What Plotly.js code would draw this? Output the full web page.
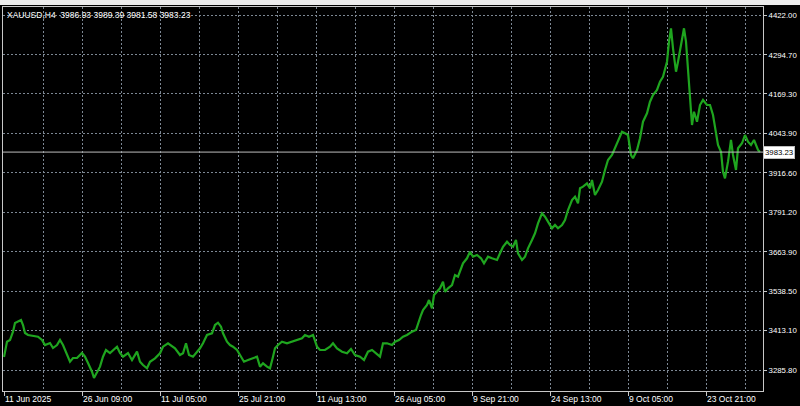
<!DOCTYPE html>
<html>
<head>
<meta charset="utf-8">
<script src="https://cdn.plot.ly/plotly-3.0.1.min.js"></script>
<style>
  html, body { margin: 0; padding: 0; background: #000; }
  #chart { width: 800px; height: 406px; }
</style>
</head>
<body>
<div id="chart"></div>
<script>
// ---- chart data ----
const symbol = 'XAUUSD';
const timeframe = 'H4';
const barOpen = 3986.93;
const barHigh = 3989.39;
const barLow = 3981.58;
const barClose = 3983.23;

// bar number (H4 bars counted from the first visible bar, 11 Jun 2025)
const bars = [
  0,3,6,9,11,14,17,19,21,24,29,34,38,41,46,49,53,56,59,63,66,69,73,78,81,84,88,90,93,96,99,102,106,109,113,116,119,124,128,133,136,139,143,146,151,156,
  159,164,168,171,176,179,182,185,189,193,196,199,203,208,211,214,217,219,223,226,229,233,236,240,244,249,253,256,259,263,266,269,271,274,278,283,288,293,298,301,305,
  309,313,316,321,326,329,333,338,343,347,351,356,360,364,368,372,376,379,383,388,391,395,399,403,408,412,414,417,419,423,425,428,430,433,436,439,441,444,448,451,454,
  459,463,466,469,473,477,480,484,488,493,496,499,503,506,509,512,514,518,521,524,528,531,534,538,541,544,548,551,554,558,561,564,568,571,574,576,579,583,586,588,591,594,598,601,604,608,
  611,614,618,621,624,627,629,633,636,639,643,646,649,653,656,659,663,665,667,669,672,674,677,680,682,684,686,688,690,693,696,699,703,706,709,712,714,717,719,721,724,727,729,732,734,738,741,744,747,750,754,756
];

// close prices
const closes = [
  3327.4,3376.4,3381.8,3408.4,3436.2,3440.4,3445.8,3429.8,3404.2,3397.8,3394.6,3392.4,3381.8,3365.8,3372.2,3356.2,3365.8,3381.8,3365.8,3333.8,3312.3,3324.2,3324.2,3340.2,3328.4,3308.2,3280.3,3260.2,3280.3,3296.4,3328.4,3349.8,3340.2,3349.8,3360.4,3340.2,3328.4,3340.2,3317.8,3344.4,3312.3,3301.8,3291.2,3312.3,3323.2,3339.2,
  3360.4,3371.2,3360.4,3355.2,3333.8,3339.2,3371.2,3333.8,3328.4,3344.4,3355.2,3371.2,3397.8,3403.2,3429.8,3437.2,3424.4,3403.2,3376.4,3365.8,3360.4,3349.8,3333.8,3312.3,3317.8,3323.2,3328.4,3296.4,3307.2,3296.4,3291.2,3328.4,3355.2,3365.8,3376.4,3371.2,3376.4,3381.8,3387.2,3397.8,3392.4,
  3397.8,3360.4,3349.8,3349.8,3360.4,3371.2,3355.2,3344.4,3339.2,3353.0,3333.8,3328.4,3317.8,3344.4,3349.8,3339.2,3328.4,3371.2,3371.2,3365.8,3376.4,3381.8,3392.4,3397.8,3408.4,3413.8,3435.3,3461.8,3477.8,3493.8,3509.8,3483.3,3525.8,3536.4,3547.3,3568.4,3536.4,3547.3,3557.8,3589.8,3584.4,
  3627.3,3643.3,3664.4,3648.4,3653.9,3643.3,3627.3,3648.4,3643.3,3637.9,3659.3,3680.4,3696.4,3685.9,3680.4,3701.9,3659.3,3637.9,3648.4,3675.3,3701.9,3723.3,3755.3,3787.3,3776.4,3760.4,3739.3,3749.9,3739.3,3749.9,3765.9,3797.9,3829.9,3840.5,3819.3,3867.3,3872.5,3883.3,3867.3,3893.9,3845.9,3861.9,3888.5,3925.9,3957.9,3973.9,
  3995.4,4016.5,4048.5,4043.4,4037.9,3973.9,3963.4,3989.9,4027.4,4080.5,4107.4,4144.5,4166.0,4182.0,4208.5,4224.5,4272.5,4336.5,4379.4,4315.4,4240.5,4272.5,4326.0,4379.4,4336.5,4240.5,4144.5,4069.9,4112.5,4080.5,4133.9,4149.9,4133.9,4133.9,4101.9,4048.5,4005.9,3984.5,3920.5,3899.3,3952.5,4021.9,3973.9,3925.9,3995.4,4011.4,4037.9,4016.5,4005.9,4021.9,3989.9,3983.23
];

// axis ticks
const xTickBars = [0, 78, 156, 234, 312, 390, 468, 546, 624, 702];
const xTickLabels = ['11 Jun 2025', '26 Jun 09:00', '11 Jul 05:00', '25 Jul 21:00', '11 Aug 13:00',
                     '26 Aug 05:00', '9 Sep 21:00', '24 Sep 13:00', '9 Oct 05:00', '23 Oct 21:00'];
const yTickVals = [3285.80, 3413.10, 3538.50, 3663.90, 3791.20, 3916.60, 4043.90, 4169.30, 4294.70, 4422.00];

// ---- drawing ----
const FONT = "'Liberation Sans', Arial, sans-serif";
const gridColor = '#7d8894';
const frameColor = '#c8c8c8';
const fmt = v => v.toFixed(2);

const trace = {
  type: 'scatter',
  mode: 'lines',
  x: bars,
  y: closes,
  line: { color: '#1fa51f', width: 2.2 },
  hoverinfo: 'skip'
};

const layout = {
  width: 800,
  height: 406,
  paper_bgcolor: '#000000',
  plot_bgcolor: '#000000',
  margin: { l: 3, r: 37, t: 7, b: 15, pad: 0 },
  showlegend: false,
  title: {
    text: `${symbol},${timeframe}  ${fmt(barOpen)} ${fmt(barHigh)} ${fmt(barLow)} ${fmt(barClose)}`,
    x: 7 / 800, xanchor: 'left',
    y: 1 - 15 / 406, yanchor: 'middle',
    font: { family: FONT, size: 8.5, color: '#ffffff' }
  },
  xaxis: {
    range: [-1, 759],
    tickmode: 'array',
    tickvals: xTickBars,
    ticktext: xTickLabels,
    ticks: 'outside', ticklen: 4, tickwidth: 1, tickcolor: frameColor,
    ticklabelposition: 'outside right',
    tickfont: { family: FONT, size: 8.5, color: '#ffffff' },
    showgrid: true, gridcolor: gridColor, gridwidth: 1, griddash: '2px,2px',
    minor: { tickmode: 'linear', tick0: 0, dtick: 39, showgrid: true,
             gridcolor: gridColor, gridwidth: 1, griddash: '2px,2px', ticks: '' },
    showline: true, linecolor: frameColor, linewidth: 1, mirror: true,
    zeroline: false, fixedrange: true
  },
  yaxis: {
    side: 'right',
    range: [3218.6, 4447.6],
    tickmode: 'array',
    tickvals: yTickVals,
    ticktext: yTickVals.map(fmt),
    ticks: 'outside', ticklen: 3, tickwidth: 1, tickcolor: frameColor,
    tickfont: { family: FONT, size: 7.8, color: '#ffffff' },
    showgrid: true, gridcolor: gridColor, gridwidth: 1, griddash: '2px,2px',
    showline: true, linecolor: frameColor, linewidth: 1, mirror: true,
    zeroline: false, fixedrange: true
  },
  shapes: [
    // light window edge above the chart
    { type: 'rect', xref: 'paper', yref: 'paper', x0: -3 / 760, x1: 1 + 37 / 760,
      y0: 1 + 2 / 384, y1: 1 + 8 / 384, fillcolor: '#ececec', line: { width: 0 }, layer: 'below' },
    // current price line
    { type: 'line', xref: 'paper', x0: 0, x1: 1, yref: 'y', y0: barClose, y1: barClose,
      line: { color: '#bdbdbd', width: 1 } }
  ],
  annotations: [
    { xref: 'paper', x: 1, xanchor: 'left', yref: 'y', y: barClose, yanchor: 'middle',
      text: fmt(barClose), showarrow: false, bgcolor: '#ffffff', bordercolor: '#bdbdbd',
      borderwidth: 1, borderpad: 1, font: { family: FONT, size: 7.8, color: '#000000' } }
  ]
};

Plotly.newPlot('chart', [trace], layout, { displayModeBar: false, staticPlot: true });
</script>
</body>
</html>
